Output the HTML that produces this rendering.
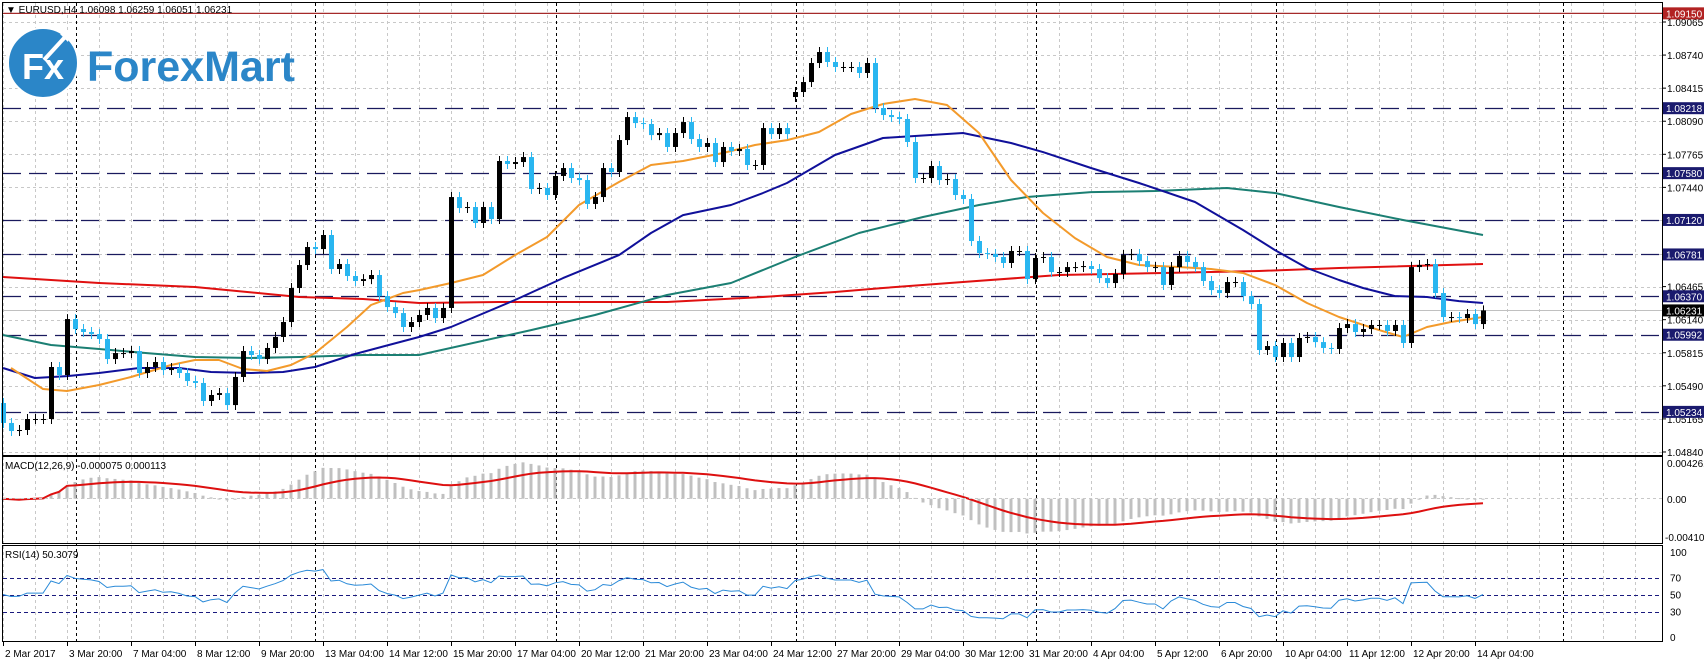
<!DOCTYPE html>
<html><head><meta charset="utf-8"><style>
html,body{margin:0;padding:0;background:#fff;width:1704px;height:664px;overflow:hidden}
svg{display:block}
text{font-family:"Liberation Sans","DejaVu Sans",sans-serif}
</style></head><body>
<svg id="chart" width="1704" height="664" viewBox="0 0 1704 664" xmlns="http://www.w3.org/2000/svg">
<rect x="0" y="0" width="1704" height="664" fill="#fff"/>
<g id="grid"></g><g id="hlines"></g><g id="ma"></g><g id="candles"></g><g id="macd"></g><g id="rsi"></g><g id="axes"></g>
<g>
<circle cx="43" cy="63" r="35" fill="#2b86c8" stroke="#fff" stroke-width="2"/>
<text x="22" y="79" font-size="36" font-weight="bold" fill="#fff">Fx</text>
<path d="M44 60 L66 36" stroke="#fff" stroke-width="4"/><path d="M60 34 L70 32 L68 42 Z" fill="#fff"/>
<text x="87" y="81" font-size="43" font-weight="bold" fill="#2b86c8">ForexMart</text>
</g>
<text x="6" y="13" font-size="10" fill="#000">▼ EURUSD,H4  1.06098 1.06259 1.06051 1.06231</text>
</svg>
<script>
const closes=[
1.05125,1.05046,1.05056,1.05164,1.05164,1.05164,1.05675,1.05596,1.06146,1.06048,
1.06019,1.05999,1.05950,1.05753,1.05812,1.05812,1.05832,1.05616,1.05675,1.05724,
1.05645,1.05665,1.05616,1.05537,1.05518,1.05341,1.05400,1.05419,1.05301,1.05577,
1.05832,1.05793,1.05753,1.05862,1.05970,1.06117,1.06451,1.06677,1.06854,1.06834,
1.06972,1.06638,1.06687,1.06569,1.06520,1.06539,1.06579,1.06372,1.06264,1.06205,
1.06068,1.06117,1.06186,1.06255,1.06156,1.06255,1.07345,1.07237,1.07247,1.07090,
1.07247,1.07129,1.07699,1.07670,1.07689,1.07738,1.07424,1.07434,1.07365,1.07552,
1.07630,1.07532,1.07512,1.07277,1.07345,1.07630,1.07591,1.07905,1.08131,1.08072,
1.08063,1.07954,1.07974,1.07837,1.07974,1.08082,1.07915,1.07837,1.07876,1.07689,
1.07837,1.07797,1.07817,1.07660,1.07660,1.08023,1.07964,1.08023,1.07964,1.08377,
1.08475,1.08662,1.08770,1.08672,1.08623,1.08623,1.08623,1.08564,1.08662,1.08220,
1.08151,1.08131,1.08112,1.07886,1.07532,1.07532,1.07650,1.07512,1.07522,1.07365,
1.07326,1.06913,1.06795,1.06785,1.06756,1.06697,1.06815,1.06815,1.06539,1.06746,
1.06756,1.06608,1.06608,1.06657,1.06657,1.06667,1.06638,1.06549,1.06500,1.06589,
1.06775,1.06785,1.06716,1.06657,1.06657,1.06481,1.06657,1.06766,1.06707,1.06657,
1.06520,1.06431,1.06402,1.06510,1.06510,1.06372,1.06294,1.05842,1.05881,1.05773,
1.05911,1.05773,1.05960,1.05970,1.05920,1.05862,1.05852,1.06058,1.06097,1.06019,
1.06048,1.06088,1.06088,1.06029,1.06088,1.05911,1.06657,1.06677,1.06687,1.06402,
1.06166,1.06166,1.06156,1.06196,1.06097,1.06231];
const gapOpens={0:1.05321,99:1.08328};
const fastIdx=[1,5,8,12,16,21,24,27,30,33,36,39,43,46,50,52,56,60,64,68,72,77,81,85,90,94,98,102,106,110,114,118,122,126,130,134,138,142,147,151,155,159,163,167,172,175,178,181,185];
const fastVals=[1.05665,1.05459,1.05439,1.05498,1.05577,1.05695,1.05744,1.05744,1.05655,1.05636,1.05695,1.05812,1.06068,1.06284,1.06402,1.06431,1.06500,1.06579,1.06775,1.06952,1.07267,1.07493,1.07660,1.07699,1.07778,1.07856,1.07905,1.07984,1.08161,1.08259,1.08308,1.08249,1.07974,1.07512,1.07188,1.06942,1.06756,1.06677,1.06658,1.06638,1.06599,1.06481,1.06304,1.06166,1.06038,1.05970,1.06068,1.06117,1.06166];
const blueIdx=[0,4,8,12,17,22,26,31,35,39,44,52,56,64,70,77,81,85,91,95,98,104,110,120,126,130,136,142,149,155,159,163,167,170,174,178,182,185];
const blueVals=[1.05665,1.05567,1.05586,1.05616,1.05665,1.05665,1.05626,1.05616,1.05626,1.05675,1.05803,1.05970,1.06068,1.06333,1.06549,1.06775,1.06992,1.07168,1.07267,1.07385,1.07483,1.07758,1.07925,1.07974,1.07876,1.07787,1.07630,1.07483,1.07296,1.07021,1.06824,1.06648,1.06530,1.06451,1.06372,1.06363,1.06323,1.06304];
const tealIdx=[0,6,12,18,24,31,37,45,52,66,74,83,91,99,107,115,122,128,136,144,153,159,167,175,185];
const tealVals=[1.05989,1.05891,1.05852,1.05812,1.05773,1.05763,1.05773,1.05793,1.05793,1.06038,1.06186,1.06382,1.06500,1.06756,1.06992,1.07149,1.07267,1.07345,1.07394,1.07404,1.07434,1.07385,1.07247,1.07119,1.06972];
const redIdx=[0,12,24,37,45,52,62,83,95,104,110,120,132,145,157,167,185];
const redVals=[1.06559,1.06500,1.06461,1.06363,1.06343,1.06304,1.06314,1.06314,1.06363,1.06412,1.06451,1.06510,1.06579,1.06599,1.06618,1.06648,1.06687];
const levelPrices=[1.08218,1.07580,1.07120,1.06781,1.06370,1.05992,1.05234];
const priceTicks=[1.09065,1.08740,1.08415,1.08090,1.07765,1.07440,1.06465,1.06140,1.05815,1.05490,1.05165,1.04840];
const timeLabels=["2 Mar 2017","3 Mar 20:00","7 Mar 04:00","8 Mar 12:00","9 Mar 20:00","13 Mar 04:00","14 Mar 12:00","15 Mar 20:00","17 Mar 04:00","20 Mar 12:00","21 Mar 20:00","23 Mar 04:00","24 Mar 12:00","27 Mar 20:00","29 Mar 04:00","30 Mar 12:00","31 Mar 20:00","4 Apr 04:00","5 Apr 12:00","6 Apr 20:00","10 Apr 04:00","11 Apr 12:00","12 Apr 20:00","14 Apr 04:00"];
const rsiLevels=[70,50,30];

const NS="http://www.w3.org/2000/svg";
function mk(tag,attrs,parent){const e=document.createElementNS(NS,tag);for(const k in attrs)e.setAttribute(k,attrs[k]);parent.appendChild(e);return e;}
const xB=i=>3+8*i;
const yP=p=>22+(1.09065-p)*10177;
const yM=v=>498.7-v*9320;
const yR=v=>637-v*0.85;
const G=id=>document.getElementById(id);

const grid=G('grid');
for(let x=3;x<1662;x+=32){
  [[3,455],[457,543],[546,641]].forEach(([a,b])=>{
    const l=mk('line',{x1:x+.5,y1:a,x2:x+.5,y2:b,stroke:'#c8c8c8','stroke-dasharray':'3,3'},grid);
    
    
  });
}
for(let k=0;k<14;k++){const y=Math.round(yP(1.09065-0.00325*k))+.5;
  const l=mk('line',{x1:3,y1:y,x2:1662,y2:y,stroke:'#c8c8c8','stroke-dasharray':'3,3'},grid);
  
  
}
[76,315,556,796,1036,1276,1563].forEach(x=>{
  const l=mk('line',{x1:x+.5,y1:3,x2:x+.5,y2:641,stroke:'#000','stroke-dasharray':'3,3'},grid);
  
  
});
const hl=G('hlines');
let l=mk('line',{x1:3,y1:yP(1.0915),x2:1662,y2:yP(1.0915),stroke:'#a52a2a','stroke-width':1.2},hl);


levelPrices.forEach(p=>{const y=Math.round(yP(p))+.5;
  const e=mk('line',{x1:3,y1:y,x2:1662,y2:y,stroke:'#1a1a5e','stroke-width':1.3,'stroke-dasharray':'18,8'},hl);
  
  
});
l=mk('line',{x1:3,y1:Math.round(yP(1.06231))+.5,x2:1662,y2:Math.round(yP(1.06231))+.5,stroke:'#c0c0c0'},hl);


const ma=G('ma');
function drawMA(idx,vals,color,name){
  const d=idx.map((i,k)=>(k?'L':'M')+xB(i)+' '+yP(vals[k]).toFixed(1)).join(' ');
  const e=mk('path',{d:d,fill:'none',stroke:color,'stroke-width':2,'stroke-linejoin':'round'},ma);
  
  
}
drawMA(redIdx,redVals,'#e01010','ma-200-red');
drawMA(tealIdx,tealVals,'#1b7f73','ma-100-teal');
drawMA(blueIdx,blueVals,'#10109a','ma-50-blue');
drawMA(fastIdx,fastVals,'#f39a2b','ma-fast-orange');
const cg=G('candles');
closes.forEach((c,i)=>{
  const o=(i in gapOpens)?gapOpens[i]:closes[i-1];
  const bull=c>=o;const x=xB(i);
  const yt=yP(Math.max(o,c)),yb=yP(Math.min(o,c));
  const w=mk('line',{x1:x+.5,y1:yt-5,x2:x+.5,y2:yb+5,stroke:bull?'#000':'#29b6f0'},cg);
  
  
  const b=mk('rect',{x:x-2,y:yt,width:5,height:Math.max(1,yb-yt),fill:bull?'#000':'#29b6f0'},cg);
  
  
});
function ema(arr,n){const k=2/(n+1);const out=[];arr.forEach((v,i)=>out.push(i?v*k+out[i-1]*(1-k):v));return out;}
const e12=ema(closes,12),e26=ema(closes,26);
const macdMain=closes.map((c,i)=>e12[i]-e26[i]);
const sig=[];macdMain.forEach((v,i)=>sig.push(i<9?v:(sig[i-1]*8+v)/9));
const mg=G('macd');
macdMain.forEach((v,i)=>{const x=xB(i);const y0=yM(0),y1=yM(v);
  const r=mk('rect',{x:x-1.5,y:Math.min(y0,y1),width:3,height:Math.max(1,Math.abs(y1-y0)),fill:'#c0c0c0'},mg);
  
  
});
l=mk('path',{d:sig.map((v,i)=>(i?'L':'M')+xB(i)+' '+yM(v).toFixed(1)).join(' '),fill:'none',stroke:'#dd1010','stroke-width':2},mg);


l=mk('line',{x1:3,y1:498.5,x2:1662,y2:498.5,stroke:'#c8c8c8','stroke-dasharray':'3,3'},mg);


let ag=0.0006,al=0.0006;const rsi=[];
closes.forEach((c,i)=>{if(!i){rsi.push(50);return;}const d=c-closes[i-1];const g=Math.max(d,0),lo=Math.max(-d,0);
  ag=(ag*13+g)/14;al=(al*13+lo)/14;rsi.push(al===0?100:100-100/(1+ag/al));});
const rg=G('rsi');
rsiLevels.forEach(v=>{const y=Math.round(yR(v))+.5;
  const e=mk('line',{x1:3,y1:y,x2:1662,y2:y,stroke:'#1a1a7e','stroke-dasharray':'4,3'},rg);
  
  
});
l=mk('path',{d:rsi.map((v,i)=>(i?'L':'M')+xB(i)+' '+yR(v).toFixed(1)).join(' '),fill:'none',stroke:'#2a8ad8','stroke-width':1},rg);


const ax=G('axes');
[[2,2,1660,453],[2,456,1660,87],[2,545,1660,96]].forEach(([x,y,w,h])=>{
  const r=mk('rect',{x:x+.5,y:y+.5,width:w,height:h,fill:'none',stroke:'#000'},ax);
  
  
});
function txt(x,y,s,attrs,name){const t=mk('text',Object.assign({x:x,y:y,'font-size':10,fill:'#000'},attrs||{}),ax);t.textContent=s;
  
  
  return t;}
priceTicks.forEach(p=>{const y=yP(p);
  const e=mk('line',{x1:1662,y1:y,x2:1666,y2:y,stroke:'#000'},ax);
  
  
  txt(1667,y+4,p.toFixed(5),{},'price-tick-label');});
function box(p,bg,name){const y=yP(p);
  const r=mk('rect',{x:1663,y:y-6,width:41,height:12,fill:bg},ax);
  
  
  txt(1666,y+4,p.toFixed(5),{fill:'#fff'},name+'-label');}
box(1.0915,'#b22222','resistance-price');
levelPrices.forEach(p=>box(p,'#1a1a6e','level-price'));
box(1.06231,'#000','current-price');
timeLabels.forEach((s,k)=>{const x=3+64*k;
  const e=mk('line',{x1:x+.5,y1:642,x2:x+.5,y2:646,stroke:'#000'},ax);
  
  
  txt(x+2,657,s,{},'time-label');});
txt(5,469,'MACD(12,26,9) -0.000075 0.000113',{},'macd-title');
txt(1667,467,'0.004261',{},'macd-axis-max');
txt(1667,503,'0.00',{},'macd-axis-zero');
txt(1665,541,'-0.004108',{},'macd-axis-min');
txt(5,558,'RSI(14) 50.3079',{},'rsi-title');
[[100,'rsi-axis-100'],[70,'rsi-axis-70'],[50,'rsi-axis-50'],[30,'rsi-axis-30'],[0,'rsi-axis-0']].forEach(([v,n])=>txt(1670,yR(v)+4,String(v),{},n));
</script>
</body></html>
